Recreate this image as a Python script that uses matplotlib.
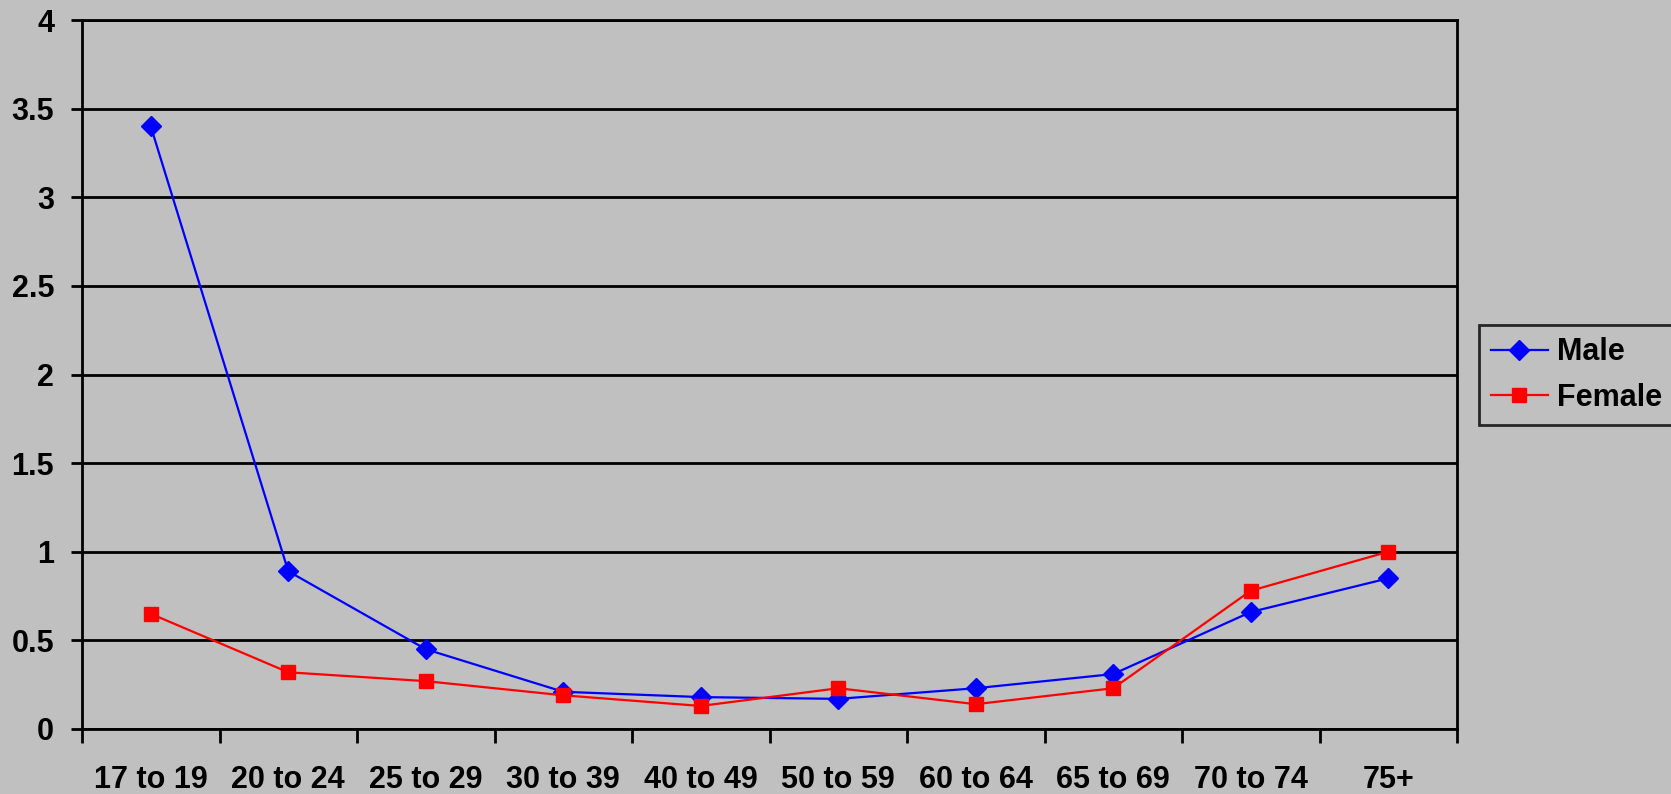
import matplotlib.pyplot as plt
from matplotlib.ticker import FixedLocator, NullFormatter

plt.rcParams['font.family'] = ['Liberation Sans', 'DejaVu Sans']
plt.rcParams['font.weight'] = 'bold'

ages = ['17 to 19', '20 to 24', '25 to 29', '30 to 39', '40 to 49',
        '50 to 59', '60 to 64', '65 to 69', '70 to 74', '75+']
male = [3.40, 0.89, 0.45, 0.21, 0.18, 0.17, 0.23, 0.31, 0.66, 0.85]
female = [0.65, 0.32, 0.27, 0.19, 0.13, 0.23, 0.14, 0.23, 0.78, 1.00]
yticks = [0, 0.5, 1, 1.5, 2, 2.5, 3, 3.5, 4]

bg = '#c0c0c0'
fig = plt.figure(figsize=(16.71, 7.94), dpi=100, facecolor=bg)
ax = fig.add_axes([82 / 1671, 1 - 729 / 794, (1457 - 82) / 1671, (729 - 20) / 794])
ax.set_facecolor(bg)

x = range(len(ages))
ax.plot(x, male, color='#0000ff', lw=1.6, marker='D', ms=10,
        label='Male', zorder=3)
ax.plot(x, female, color='#ff0000', lw=1.6, marker='s', ms=9.5,
        label='Female', zorder=3)

ax.set_xlim(-0.5, len(ages) - 0.5)
ax.set_ylim(0, 4)

# category boundaries get tick marks, labels sit in the middle
ax.xaxis.set_major_locator(FixedLocator([i - 0.5 for i in range(len(ages) + 1)]))
ax.xaxis.set_major_formatter(NullFormatter())
ax.set_xticks(list(x), minor=True)
ax.set_xticklabels(ages, minor=True, fontsize=22, fontweight='bold')
ax.tick_params(axis='x', which='major', length=10, width=2, color='black')
ax.tick_params(axis='x', which='minor', length=0, pad=26)

ax.set_yticks(yticks)
ax.set_yticklabels(['%g' % v for v in yticks], fontsize=22, fontweight='bold')
ax.tick_params(axis='y', length=8, width=2, pad=12)

ax.grid(axis='y', color='black', lw=2)
ax.set_axisbelow(True)
for s in ax.spines.values():
    s.set_linewidth(2)
    s.set_color('black')

leg = fig.legend(loc='upper left', bbox_to_anchor=(1479 / 1671, 1 - 325 / 794),
                 prop={'size': 22, 'weight': 'bold'}, frameon=True,
                 fancybox=False, handlelength=1.85, handletextpad=0.3,
                 borderpad=0.4, labelspacing=0.5, borderaxespad=0)
leg.get_frame().set_facecolor(bg)
leg.get_frame().set_edgecolor('black')
leg.get_frame().set_linewidth(2)

fig.savefig('out.png', dpi=100, facecolor=bg)
